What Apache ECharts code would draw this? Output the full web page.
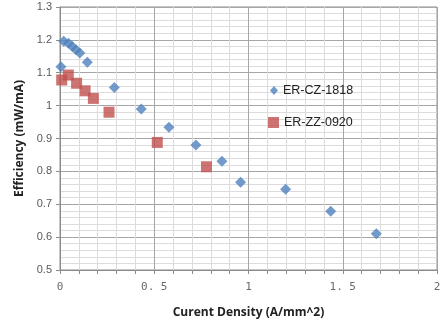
<!DOCTYPE html>
<html><head><meta charset="utf-8">
<script src="https://cdn.jsdelivr.net/npm/echarts@6/dist/echarts.min.js"></script>
<style>html,body{margin:0;padding:0;background:#fff}#c{width:448px;height:326px}</style>
</head><body><div id="c"></div>
<script>
const czX = [0.005, 0.02, 0.045, 0.065, 0.085, 0.105, 0.145, 0.288, 0.431, 0.578, 0.721, 0.859, 0.958, 1.197, 1.436, 1.678];
const czY = [1.118, 1.196, 1.19, 1.18, 1.17, 1.16, 1.132, 1.055, 0.99, 0.934, 0.88, 0.831, 0.767, 0.746, 0.679, 0.61];
const zzX = [0.009, 0.044, 0.088, 0.133, 0.177, 0.26, 0.516, 0.777];
const zzY = [1.078, 1.093, 1.068, 1.045, 1.022, 0.98, 0.888, 0.814];
const xTickValues = [0, 0.5, 1, 1.5, 2];
const xTickLabels = ['0', '0. 5', '1', '1. 5', '2'];
const yTickValues = [0.5, 0.6, 0.7, 0.8, 0.9, 1, 1.1, 1.2, 1.3];
const yTickLabels = ['0.5', '0.6', '0.7', '0.8', '0.9', '1', '1.1', '1.2', '1.3'];
const seriesNames = ['ER-CZ-1818', 'ER-ZZ-0920'];

const chart = echarts.init(document.getElementById('c'), null, {renderer: 'canvas'});
const pair = (xs, ys) => xs.map((x, i) => [x, ys[i]]);
const legendText = {fontFamily: 'Liberation Sans, Arial', fontSize: 12.5, color: '#222'};
chart.setOption({
  animation: false,
  grid: {left: 60, right: 11, top: 7, bottom: 56, show: true, borderColor: '#8c8c8c', borderWidth: 1},
  legend: [
    {left: 270, top: 84, itemWidth: 8, itemHeight: 9, padding: 0, textStyle: legendText,
      data: [{name: seriesNames[0], icon: 'diamond'}]},
    {left: 268, top: 116, itemWidth: 11, itemHeight: 11, padding: 0, textStyle: legendText,
      data: [{name: seriesNames[1], icon: 'rect'}]}
  ],
  xAxis: {
    type: 'value', min: 0, max: 2, interval: 0.5,
    name: 'Curent Density (A/mm^2)', nameLocation: 'middle', nameGap: 37,
    nameTextStyle: {fontFamily: 'Open Sans, Arial', fontWeight: 'bold', fontSize: 12, color: '#222'},
    axisLine: {show: true, lineStyle: {color: '#8c8c8c'}},
    axisTick: {show: true, length: 4, lineStyle: {color: '#8c8c8c'}},
    minorTick: {show: true, splitNumber: 5, length: 4, lineStyle: {color: '#8c8c8c'}},
    axisLabel: {margin: 12, color: '#6a6a6a', fontFamily: 'DejaVu Sans Mono, monospace', fontSize: 11,
      formatter: v => { const i = xTickValues.findIndex(t => Math.abs(t - v) < 1e-9); return i >= 0 ? xTickLabels[i] : ''; }},
    splitLine: {show: true, lineStyle: {color: '#a6a6a6'}},
    minorSplitLine: {show: true, lineStyle: {color: '#dcdcdc'}}
  },
  yAxis: {
    type: 'value', min: 0.5, max: 1.3, interval: 0.1,
    name: 'Efficiency (mW/mA)', nameLocation: 'middle', nameGap: 34,
    nameTextStyle: {fontFamily: 'Open Sans, Arial', fontWeight: 'bold', fontSize: 12, color: '#222'},
    axisLine: {show: true, lineStyle: {color: '#8c8c8c'}},
    axisTick: {show: true, length: 4, lineStyle: {color: '#8c8c8c'}},
    minorTick: {show: false, splitNumber: 5},
    axisLabel: {margin: 8, color: '#595959', fontFamily: 'Liberation Sans, Arial', fontSize: 11,
      formatter: v => { const i = yTickValues.findIndex(t => Math.abs(t - v) < 1e-9); return i >= 0 ? yTickLabels[i] : ''; }},
    splitLine: {show: true, lineStyle: {color: '#a6a6a6'}},
    minorSplitLine: {show: true, lineStyle: {color: '#dcdcdc'}}
  },
  series: [
    {name: seriesNames[0], type: 'scatter', symbol: 'diamond', symbolSize: [11, 11],
      itemStyle: {color: '#4F81BD'}, data: pair(czX, czY)},
    {name: seriesNames[1], type: 'scatter', symbol: 'rect', symbolSize: [11, 11],
      itemStyle: {color: '#C0504D'}, data: pair(zzX, zzY)}
  ]
});
</script></body></html>
